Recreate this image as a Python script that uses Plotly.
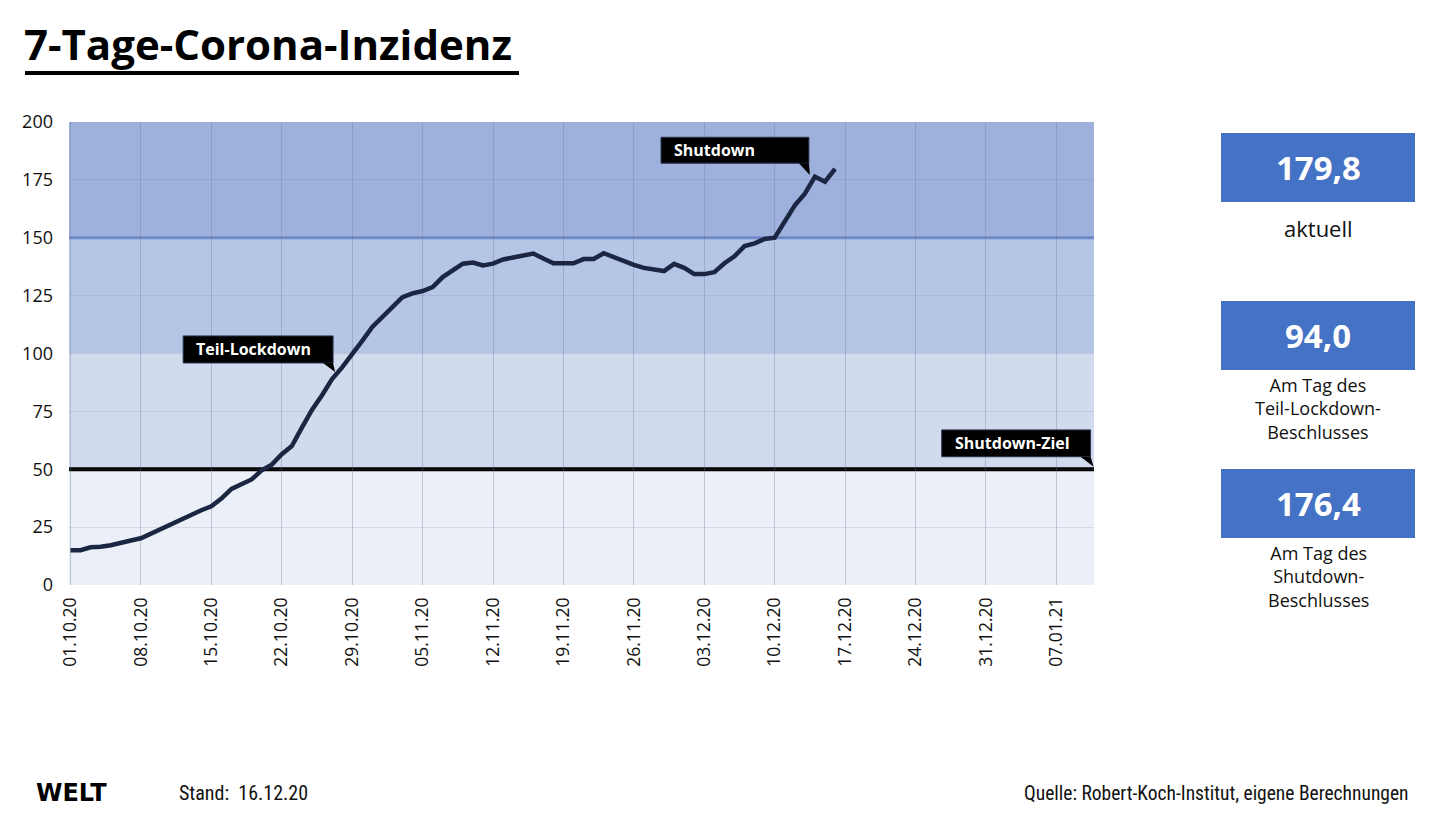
import plotly.graph_objects as go

# ---------------- data ----------------
tick_labels = ["01.10.20", "08.10.20", "15.10.20", "22.10.20", "29.10.20", "05.11.20",
               "12.11.20", "19.11.20", "26.11.20", "03.12.20", "10.12.20", "17.12.20",
               "24.12.20", "31.12.20", "07.01.21"]
tick_step_days = 7

incidence = [15.0, 15.0, 16.3, 16.5, 17.2, 18.0, 19.2, 20.2, 22.3, 24.2,
             26.5, 28.5, 30.3, 32.3, 34.0, 37.3, 41.5, 43.5, 45.6, 49.5,
             52.0, 56.5, 60.0, 68.0, 75.6, 82.0, 89.0, 94.0, 99.5, 105.5,
             111.5, 115.5, 120.0, 124.3, 126.0, 127.0, 128.7, 133.0, 136.0, 138.8,
             139.3, 138.0, 138.8, 140.6, 141.5, 142.3, 143.2, 141.0, 139.0, 139.0,
             139.0, 140.8, 140.8, 143.3, 141.6, 139.8, 138.3, 137.0, 136.1, 135.6,
             138.7, 137.0, 134.3, 134.3, 135.1, 139.0, 142.0, 146.4, 147.6, 149.5,
             150.0, 156.9, 164.0, 169.0, 176.4, 174.2, 179.8]
days = list(range(len(incidence)))

band_edges = [0, 50, 100, 150, 200]
band_colors = ["#EBEFF7", "#D2DBEE", "#B5C5E6", "#9EB1DC"]
target_level = 50
threshold_level = 150

stat_values = ["179,8", "94,0", "176,4"]
stat_labels = ["aktuell", "Am Tag des<br>Teil-Lockdown-<br>Beschlusses",
               "Am Tag des<br>Shutdown-<br>Beschlusses"]

title = "7-Tage-Corona-Inzidenz"
stand = "Stand:  16.12.20"
source = "Quelle: Robert-Koch-Institut, eigene Berechnungen"

# ---------------- layout geometry (reference page pixels) ----------------
OFF = 8                      # browser body margin
W, H = 1439 - 2 * OFF, 818 - 2 * OFF
PL, PR, PT, PB = 69, 1094, 122, 585
px_per_day = 10.06
x0_px = 70.5
x_start = -(x0_px - PL) / px_per_day
x_end = x_start + (PR - PL) / px_per_day


def pxx(px):
    return (px - PL) / (PR - PL)


def pxy(py):
    return (PB - py) / (PB - PT)


FONT = "'Open Sans', Lato, sans-serif"
NARROW = "'Liberation Sans Narrow', 'Roboto Condensed', Roboto, sans-serif"

fig = go.Figure()
fig.add_trace(go.Scatter(x=days, y=incidence, mode="lines",
                         line=dict(color="#1B2642", width=4.5),
                         hoverinfo="skip", showlegend=False))

shapes = []
for lo, hi, c in zip(band_edges[:-1], band_edges[1:], band_colors):
    shapes.append(dict(type="rect", xref="paper", yref="y", x0=0, x1=1, y0=lo, y1=hi,
                       fillcolor=c, line=dict(width=0), layer="below"))
shapes.append(dict(type="line", xref="paper", yref="y", x0=0, x1=1,
                   y0=threshold_level, y1=threshold_level,
                   line=dict(color="#6F8BCB", width=3), layer="between"))
shapes.append(dict(type="line", xref="paper", yref="y", x0=0, x1=1,
                   y0=target_level, y1=target_level,
                   line=dict(color="#000000", width=4), layer="between"))

# callout boxes (data coords): (label, x0, x1, y0, y1, tail tip x, tail tip y)
callouts = [
    ("Teil-Lockdown", 11.2, 26.1, 95.9, 107.6, 26.3, 92.0),
    ("Shutdown", 58.7, 73.4, 182.2, 193.4, 73.5, 177.1),
    ("Shutdown-Ziel", 86.6, 101.4, 55.4, 67.0, 101.7, 51.1),
]
annotations = []
for lab, bx0, bx1, by0, by1, tx, ty in callouts:
    shapes.append(dict(type="rect", xref="x", yref="y", x0=bx0, x1=bx1, y0=by0, y1=by1,
                       fillcolor="#000000", line=dict(color="#2A3550", width=1), layer="above"))
    shapes.append(dict(type="path", xref="x", yref="y",
                       path=f"M {bx1-1.0},{by0} L {bx1},{by0} L {tx},{ty} Z",
                       fillcolor="#000000", line=dict(width=0), layer="above"))
    annotations.append(dict(xref="x", yref="y", x=bx0, y=(by0 + by1) / 2, xanchor="left",
                            yanchor="middle", xshift=11, showarrow=False, text=f"<b>{lab}</b>",
                            font=dict(family=FONT, size=16, color="white")))

# right panel stat boxes
box_tops = [133, 301, 469]
box_h = 69
label_tops = [228, 384, 552]
for val, lab, top, ltop in zip(stat_values, stat_labels, box_tops, label_tops):
    shapes.append(dict(type="rect", xref="paper", yref="paper", x0=pxx(1221), x1=pxx(1415),
                       y0=pxy(top + box_h), y1=pxy(top), fillcolor="#4472C4",
                       line=dict(width=0)))
    annotations.append(dict(xref="paper", yref="paper", x=pxx(1318), y=pxy(top + box_h / 2),
                            xanchor="center", yanchor="middle", showarrow=False,
                            text=f"<b>{val}</b>",
                            font=dict(family=FONT, size=33, color="white")))
    if "<br>" in lab:
        annotations.append(dict(xref="paper", yref="paper", x=pxx(1318), y=pxy(ltop - 13),
                                xanchor="center", yanchor="top", showarrow=False, text=lab,
                                font=dict(family=FONT, size=18, color="#111111")))
    else:
        annotations.append(dict(xref="paper", yref="paper", x=pxx(1318), y=pxy(ltop),
                                xanchor="center", yanchor="middle", showarrow=False, text=lab,
                                font=dict(family=FONT, size=22, color="#111111")))

# title + underline
annotations.append(dict(xref="paper", yref="paper", x=pxx(22), y=pxy(44), xanchor="left",
                        yanchor="middle", showarrow=False, text=f"<b>{title}</b>",
                        font=dict(family=FONT, size=42, color="#000000")))
shapes.append(dict(type="line", xref="paper", yref="paper", x0=pxx(25), x1=pxx(519),
                   y0=pxy(73), y1=pxy(73), line=dict(color="#000000", width=4)))

# footer
annotations.append(dict(xref="paper", yref="paper", x=pxx(34), y=pxy(793), xanchor="left",
                        yanchor="middle", showarrow=False, text="<b>WELT</b>",
                        font=dict(family="'DejaVu Sans', sans-serif", size=24,
                                  color="#000000")))
annotations.append(dict(xref="paper", yref="paper", x=pxx(177), y=pxy(793), xanchor="left",
                        yanchor="middle", showarrow=False, text=stand,
                        font=dict(family=NARROW, size=20, color="#111111")))
annotations.append(dict(xref="paper", yref="paper", x=pxx(1411), y=pxy(793), xanchor="right",
                        yanchor="middle", showarrow=False, text=source,
                        font=dict(family=NARROW, size=19.5, color="#111111")))

fig.update_layout(
    width=W, height=H,
    margin=dict(l=PL - OFF, r=(1439 - OFF) - PR, t=PT - OFF, b=(818 - OFF) - PB, pad=0),
    paper_bgcolor="white", plot_bgcolor="rgba(0,0,0,0)",
    shapes=shapes, annotations=annotations, showlegend=False,
    font=dict(family=FONT, color="#111111"),
)
fig.update_xaxes(range=[x_start, x_end],
                 tickvals=[i * tick_step_days for i in range(len(tick_labels))],
                 ticktext=tick_labels, tickangle=-90, ticks="",
                 tickfont=dict(family=FONT, size=17.5, color="#111111"),
                 ticklabelstandoff=8,
                 showgrid=True, gridcolor="rgba(110,120,150,0.35)", gridwidth=1,
                 zeroline=False, showline=False)
fig.update_yaxes(range=[0, 200], tickvals=list(range(0, 201, 25)), ticks="",
                 tickfont=dict(family=FONT, size=18, color="#111111"),
                 ticklabelstandoff=15,
                 showgrid=True, gridcolor="rgba(110,120,150,0.18)", gridwidth=1,
                 zeroline=False, showline=False)

fig.write_html("out.html")
